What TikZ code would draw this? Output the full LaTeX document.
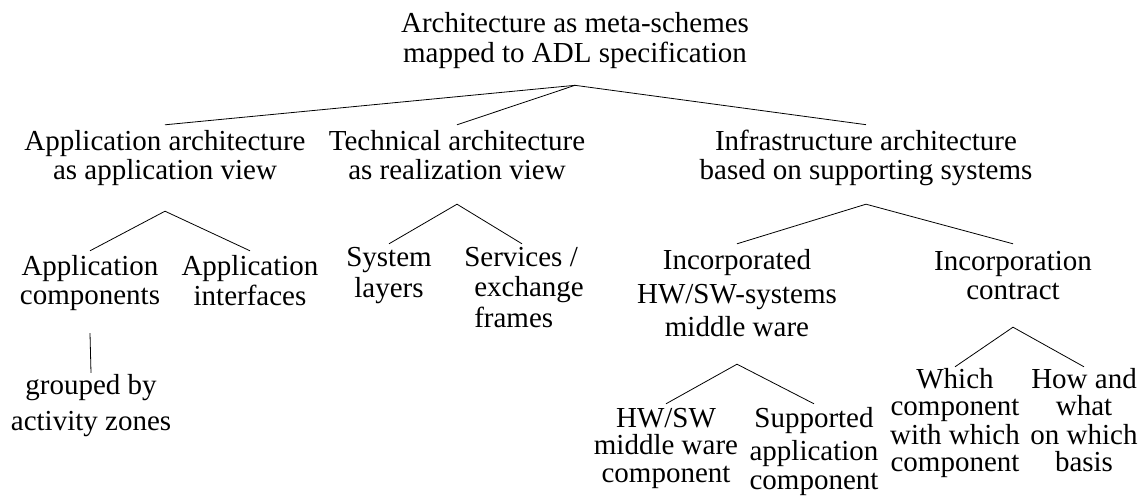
\documentclass[tikz,border=0pt]{standalone}
\usepackage{fontspec}
\setmainfont{Liberation Serif}
\newcommand{\cbox}[1]{\begin{tabular}[t]{@{}c@{}}#1\end{tabular}}
\newcommand{\lbox}[1]{\begin{tabular}[t]{@{}l@{}}#1\end{tabular}}
\tikzset{
  tn/.style={inner sep=0pt, anchor=base, font=\fontsize{29}{29}\selectfont},
  conn/.style={line width=0.8pt, black}
}
\begin{document}
\begin{tikzpicture}[x=1pt,y=-1pt]
\useasboundingbox (0,0) rectangle (1144,497);
% nodes
\node[tn] (root) at (575,33) {\cbox{Architecture as meta-schemes\\mapped to ADL specification}};
\node[tn] (c1) at (165,151) {\cbox{Application architecture\\as application view}};
\node[tn] (c2) at (457,151) {\cbox{Technical architecture\\as realization view}};
\node[tn] (c3) at (866,151) {\cbox{Infrastructure architecture\\based on supporting systems}};
\node[tn] (ac) at (90,276) {\cbox{Application\\components}};
\node[tn] (ai) at (250,276) {\cbox{Application\\interfaces}};
\node[tn] (gz) at (91,394) {\cbox{grouped by\\[7pt]activity zones}};
\node[tn] (sl) at (389,267) {\cbox{System\\[2pt]layers}};
\node[tn] (sv) at (524,267) {\lbox{Services /\\[1pt]\hspace*{10pt}exchange\\[1pt]\hspace*{10pt}frames}};
\node[tn] (inc) at (737,270) {\cbox{Incorporated\\[5pt]HW/SW-systems\\[4pt]middle ware}};
\node[tn] (con) at (1013,271) {\cbox{Incorporation\\contract}};
\node[tn] (hw) at (666,427) {\cbox{HW/SW\\[-2pt]middle ware\\[-1pt]component}};
\node[tn] (sup) at (814,427) {\cbox{Supported\\[4pt]application\\component}};
\node[tn] (wh) at (955,388) {\cbox{Which\\[-1pt]component\\[-1pt]with which\\[-1pt]component}};
\node[tn] (how) at (1084,388) {\cbox{How and\\[-1pt]what\\[-1pt]on which\\[-1pt]basis}};
% connectors
\draw[conn] ([yshift=5.7pt]c1.north) -- ([yshift=-14.3pt]root.south) -- ([yshift=5.7pt]c3.north);
\draw[conn] ([yshift=-14.3pt]root.south) -- ([yshift=5.7pt]c2.north);
\draw[conn] ([yshift=4.7pt]ac.north) -- ([yshift=-22.3pt]c1.south) -- ([yshift=4.7pt]ai.north);
\draw[conn] ([yshift=-19.3pt]ac.south) -- ([yshift=0.7pt]gz.north);
\draw[conn] ([yshift=2.7pt]sl.north) -- ([yshift=-15.3pt]c2.south) -- ([yshift=2.7pt,xshift=-2pt]sv.north);
\draw[conn] ([yshift=5.7pt]inc.north) -- ([yshift=-15.3pt]c3.south) -- ([yshift=6.7pt]con.north);
\draw[conn] ([yshift=2.7pt]hw.north) -- ([yshift=-18.3pt]inc.south) -- ([yshift=2.7pt]sup.north);
\draw[conn] ([yshift=0.7pt]wh.north) -- ([yshift=-18.3pt]con.south) -- ([yshift=0.7pt]how.north);
\end{tikzpicture}
\end{document}
